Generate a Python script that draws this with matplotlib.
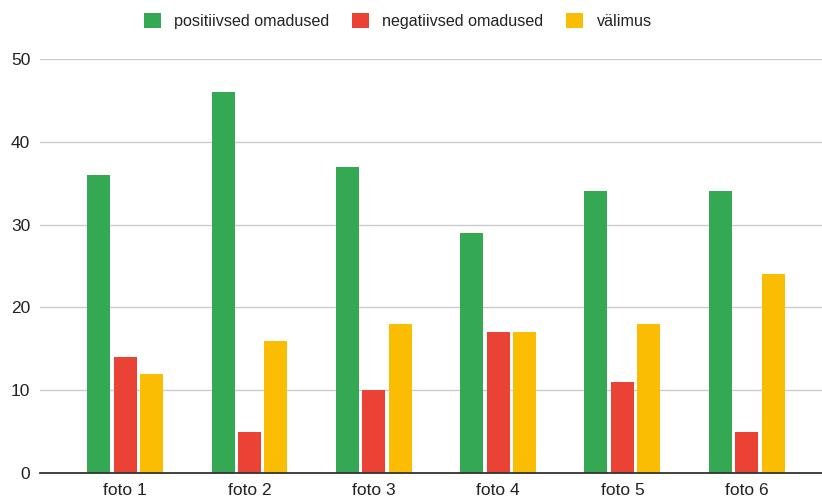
import numpy as np
import matplotlib.pyplot as plt

plt.rcParams['font.family'] = ['Liberation Sans', 'DejaVu Sans']

# data
categories = ['foto 1', 'foto 2', 'foto 3', 'foto 4', 'foto 5', 'foto 6']
positiivsed = [36, 46, 37, 29, 34, 34]
negatiivsed = [14, 5, 10, 17, 11, 5]
valimus = [12, 16, 18, 17, 18, 24]
series_names = ['positiivsed omadused', 'negatiivsed omadused', 'välimus']
colors = ['#34A853', '#EA4335', '#FBBC04']

fig = plt.figure(figsize=(8.22, 5), dpi=100)
ax = fig.add_axes([40 / 822, 27 / 500, 1 - 40 / 822, (473 - 59) / 500])

x = np.arange(len(categories))
width = 0.185
step = 0.213
for i, (vals, name, col) in enumerate(zip([positiivsed, negatiivsed, valimus], series_names, colors)):
    ax.bar(x + (i - 1) * step, vals, width, color=col, label=name, zorder=3)

ax.set_ylim(0, 50)
ax.set_xlim(-0.685, 5.605)
ax.set_yticks([0, 10, 20, 30, 40, 50])
ax.set_xticks(x)
ax.set_xticklabels(categories)
ax.tick_params(axis='both', length=0, labelsize=12.5, colors='#222222')
ax.tick_params(axis='x', pad=7)
ax.tick_params(axis='y', pad=7)
ax.grid(axis='y', color='#cccccc', linewidth=1, zorder=0)
for s in ['top', 'right', 'left']:
    ax.spines[s].set_visible(False)
ax.spines['bottom'].set_color('#333333')
ax.spines['bottom'].set_linewidth(1.3)
ax.spines['bottom'].set_zorder(4)

fig.legend(loc='upper center', bbox_to_anchor=(0.484, 1.003), ncol=3, frameon=False,
           fontsize=11.6, handlelength=1.03, handleheight=1.03, columnspacing=1.42,
           handletextpad=0.84, labelcolor='#222222')

fig.savefig('out.png', dpi=100)
